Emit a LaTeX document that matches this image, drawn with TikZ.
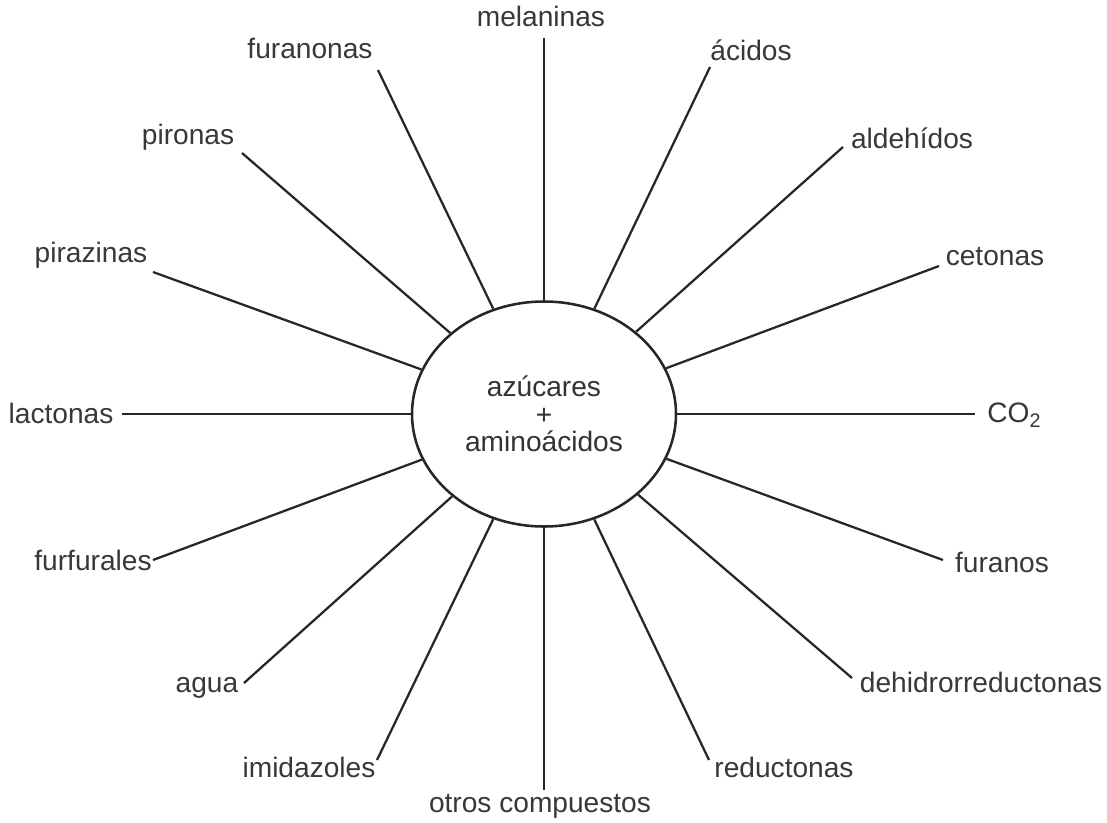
\documentclass[tikz,border=0pt]{standalone}
\usepackage{fontspec}
\setmainfont{Liberation Sans}
\usetikzlibrary{shapes.geometric}

\begin{document}
\begin{tikzpicture}[
      centro/.style={draw=black!85, ellipse, line width=0.9pt, inner sep=0pt,
                     minimum width=3.3cm, minimum height=2.8125cm, align=center,
                     text=black!80, font=\fontsize{10}{9.8}\selectfont},
      producto/.style={inner sep=1pt, text=black!78, font=\fontsize{10}{12}\selectfont},
      enlace/.style={draw=black!85, line width=0.8pt}
    ]
    \useasboundingbox[fill=white] (-6.8,5.175) rectangle (7.0375,-5.1);

    \node[centro] (c) at (0,0) {azúcares\\ +\\ aminoácidos};

    % extremos libres de los radios
    \coordinate (mel) at (0,4.7);
    \coordinate (aci) at (2.075,4.3375);
    \coordinate (ald) at (3.7375,3.3375);
    \coordinate (cet) at (4.9375,1.85);
    \coordinate (co2) at (5.3875,0);
    \coordinate (fur) at (4.9875,-1.825);
    \coordinate (deh) at (3.85,-3.3);
    \coordinate (red) at (2.0625,-4.325);
    \coordinate (otr) at (0,-4.7);
    \coordinate (imi) at (-2.0875,-4.325);
    \coordinate (agu) at (-3.75,-3.3625);
    \coordinate (ffu) at (-4.8875,-1.825);
    \coordinate (lac) at (-5.275,0);
    \coordinate (pir) at (-4.8875,1.775);
    \coordinate (pio) at (-3.775,3.2625);
    \coordinate (fun) at (-2.075,4.3);

    \node[producto] (mel-t) at (-0.0375,4.975) {melaninas};
    \node[producto] (aci-t) at (2.5875,4.55)   {ácidos};
    \node[producto] (ald-t) at (4.6,3.45)      {aldehídos};
    \node[producto] (cet-t) at (5.6375,1.9625) {cetonas};
    \node[producto, anchor=base west] (co2-t) at (5.5,-0.11) {CO\textsubscript{2}};
    \node[producto] (fur-t) at (5.725,-1.85)   {furanos};
    \node[producto] (deh-t) at (5.4625,-3.35)  {dehidrorreductonas};
    \node[producto] (red-t) at (3.0,-4.4125)   {reductonas};
    \node[producto] (otr-t) at (-0.05,-4.9)    {otros compuestos};
    \node[producto] (imi-t) at (-2.9375,-4.4125) {imidazoles};
    \node[producto] (agu-t) at (-4.2125,-3.425) {agua};
    \node[producto] (ffu-t) at (-5.6375,-1.825) {furfurales};
    \node[producto] (lac-t) at (-6.0375,0.0125) {lactonas};
    \node[producto] (pir-t) at (-5.6625,1.9875) {pirazinas};
    \node[producto] (pio-t) at (-4.45,3.4625)  {pironas};
    \node[producto] (fun-t) at (-2.925,4.575)  {furanonas};

    \draw[enlace] (c) -- (mel);
    \draw[enlace] (c) -- (aci);
    \draw[enlace] (c) -- (ald);
    \draw[enlace] (c) -- (cet);
    \draw[enlace] (c) -- (co2);
    \draw[enlace] (c) -- (fur);
    \draw[enlace] (c) -- (deh);
    \draw[enlace] (c) -- (red);
    \draw[enlace] (c) -- (otr);
    \draw[enlace] (c) -- (imi);
    \draw[enlace] (c) -- (agu);
    \draw[enlace] (c) -- (ffu);
    \draw[enlace] (c) -- (lac);
    \draw[enlace] (c) -- (pir);
    \draw[enlace] (c) -- (pio);
    \draw[enlace] (c) -- (fun);
  \end{tikzpicture}
\end{document}
